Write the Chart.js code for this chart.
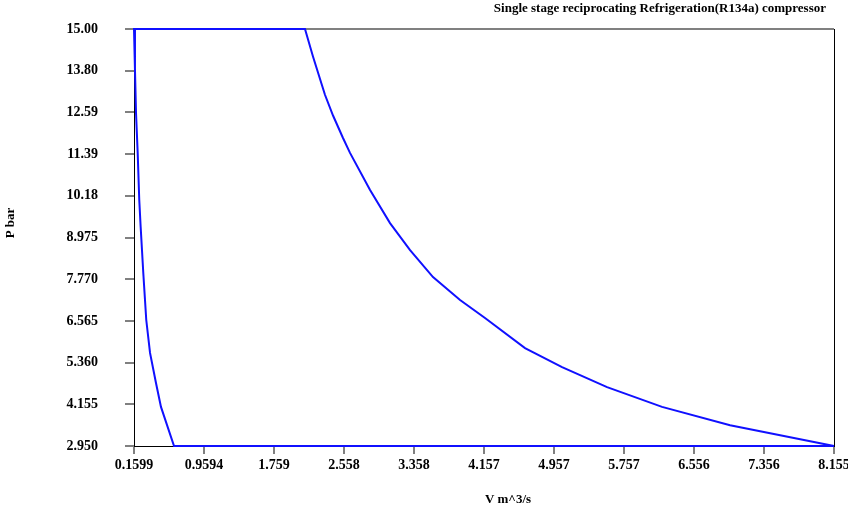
<!DOCTYPE html>
<html>
<head>
<meta charset="utf-8">
<script src="https://cdn.jsdelivr.net/npm/chart.js@4/dist/chart.umd.min.js"></script>
<style>
  html, body { margin: 0; padding: 0; background: #fff; }
  #wrap { width: 848px; height: 513px; position: relative; }
</style>
</head>
<body>
<div id="wrap"><canvas id="pv"></canvas></div>
<script>
// Compression stroke: suction end (bottom right) up to discharge pressure
const compressionV = [8.155, 6.968, 6.191, 5.563, 5.049, 4.626, 4.169, 3.884, 3.575, 3.313, 3.084, 2.856, 2.627, 2.547, 2.433, 2.341, 2.205, 2.113];
const compressionP = [2.950, 3.55, 4.08, 4.65, 5.23, 5.78, 6.65, 7.17, 7.83, 8.61, 9.39, 10.35, 11.42, 11.85, 12.50, 13.10, 14.20, 15.00];

// Re-expansion of clearance gas: from clearance volume down to suction pressure
const expansionV = [0.1599, 0.171, 0.183, 0.202, 0.220, 0.236, 0.266, 0.300, 0.343, 0.411, 0.468, 0.617];
const expansionP = [15.00, 13.82, 12.57, 11.42, 10.06, 9.28, 7.95, 6.59, 5.64, 4.77, 4.08, 2.950];

// Axis tick labels
const xTickValues = [0.1599, 0.9594, 1.759, 2.558, 3.358, 4.157, 4.957, 5.757, 6.556, 7.356, 8.155];
const xTickLabels = ["0.1599", "0.9594", "1.759", "2.558", "3.358", "4.157", "4.957", "5.757", "6.556", "7.356", "8.155"];
const yTickValues = [2.950, 4.155, 5.360, 6.565, 7.770, 8.975, 10.18, 11.39, 12.59, 13.80, 15.00];
const yTickLabels = ["2.950", "4.155", "5.360", "6.565", "7.770", "8.975", "10.18", "11.39", "12.59", "13.80", "15.00"];

const chartTitle = "Single stage reciprocating Refrigeration(R134a) compressor";
const xTitle = "V m^3/s";
const yTitle = "P bar";

// Closed cycle: compression -> discharge -> re-expansion -> suction back to start
const cycle = [];
compressionV.forEach((v, i) => cycle.push({ x: v, y: compressionP[i] }));
expansionV.forEach((v, i) => cycle.push({ x: v, y: expansionP[i] }));
cycle.push({ x: compressionV[0], y: compressionP[0] });

const serif = "'Liberation Serif', 'Times New Roman', serif";

// Frame edges (top, right) plus chart and axis titles
const framePlugin = {
  id: 'frame',
  beforeDatasetsDraw(chart) {
    const { ctx, chartArea: a } = chart;
    ctx.save();
    ctx.lineWidth = 2;
    ctx.strokeStyle = '#808080';
    ctx.beginPath();
    ctx.moveTo(a.left, a.top);
    ctx.lineTo(a.right, a.top);
    ctx.stroke();
    ctx.lineWidth = 1;
    ctx.strokeStyle = '#000';
    ctx.beginPath();
    ctx.moveTo(a.right + 0.5, a.top);
    ctx.lineTo(a.right + 0.5, a.bottom);
    ctx.stroke();
    ctx.restore();
  },
  afterDraw(chart) {
    const { ctx } = chart;
    ctx.save();
    ctx.fillStyle = '#000';
    ctx.textBaseline = 'middle';
    ctx.font = "bold 13px " + serif;
    ctx.textAlign = 'right';
    ctx.fillText(chartTitle, 826, 9);
    ctx.textAlign = 'center';
    ctx.fillText(xTitle, 508, 500);
    ctx.translate(11, 223);
    ctx.rotate(-Math.PI / 2);
    ctx.fillText(yTitle, 0, 0);
    ctx.restore();
  }
};

new Chart(document.getElementById('pv'), {
  type: 'scatter',
  data: {
    datasets: [{
      data: cycle,
      showLine: true,
      borderColor: '#1010ff',
      borderWidth: 2,
      pointRadius: 0,
      tension: 0,
      fill: false,
      clip: false
    }]
  },
  options: {
    responsive: true,
    maintainAspectRatio: false,
    animation: false,
    layout: { padding: { left: 0, top: 29, right: 14, bottom: 0 } },
    plugins: {
      legend: { display: false },
      tooltip: { enabled: false }
    },
    scales: {
      x: {
        type: 'linear',
        min: xTickValues[0],
        max: xTickValues[xTickValues.length - 1],
        afterBuildTicks(scale) { scale.ticks = xTickValues.map(v => ({ value: v })); },
        afterFit(scale) { scale.height = 67; scale.paddingLeft = 0; scale.paddingRight = 0; },
        ticks: {
          autoSkip: false,
          maxRotation: 0,
          padding: 3,
          color: '#000',
          font: { family: serif, size: 14, weight: 'bold' },
          callback(value, index) { return xTickLabels[index]; }
        },
        grid: { drawOnChartArea: false, drawTicks: true, tickLength: 8, color: '#808080', lineWidth: 2 },
        border: { display: true, color: '#000', width: 1 }
      },
      y: {
        type: 'linear',
        min: yTickValues[0],
        max: yTickValues[yTickValues.length - 1],
        afterBuildTicks(scale) { scale.ticks = yTickValues.map(v => ({ value: v })); },
        afterFit(scale) { scale.width = 134; scale.paddingTop = 0; scale.paddingBottom = 0; },
        ticks: {
          autoSkip: false,
          padding: 27,
          color: '#000',
          font: { family: serif, size: 14, weight: 'bold' },
          callback(value, index) { return yTickLabels[index]; }
        },
        grid: { drawOnChartArea: false, drawTicks: true, tickLength: 9, color: '#808080', lineWidth: 2 },
        border: { display: true, color: '#000', width: 1 }
      }
    }
  },
  plugins: [framePlugin]
});
</script>
</body>
</html>
